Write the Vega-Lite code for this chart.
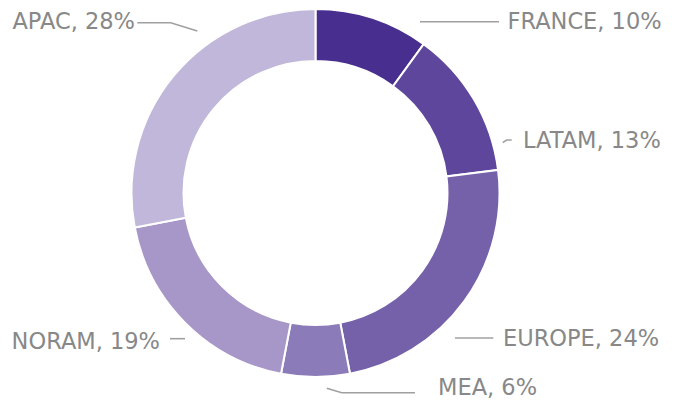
{
  "$schema": "https://vega.github.io/schema/vega-lite/v6.json",
  "width": 631,
  "height": 386,
  "autosize": "none",
  "padding": {"left": 0, "top": 0, "right": 51, "bottom": 22},
  "background": "white",
  "config": {"view": {"stroke": null}},
  "datasets": {
    "shares": [
      {"region": "FRANCE", "share": 10},
      {"region": "LATAM", "share": 13},
      {"region": "EUROPE", "share": 24},
      {"region": "MEA", "share": 6},
      {"region": "NORAM", "share": 19},
      {"region": "APAC", "share": 28}
    ],
    "labels": [
      {"text": "FRANCE, 10%", "u": 1.0435, "v": 0.9321},
      {"text": "LATAM, 13%", "u": 1.1277, "v": 0.288},
      {"text": "EUROPE, 24%", "u": 1.019, "v": -0.788},
      {"text": "MEA, 6%", "u": 0.6658, "v": -1.0543},
      {"text": "NORAM, 19%", "u": -0.8451, "v": -0.8043},
      {"text": "APAC, 28%", "u": -0.981, "v": 0.9321}
    ],
    "leaders": [
      {"region": "FRANCE", "seq": 1, "u": 0.5679, "v": 0.931},
      {"region": "FRANCE", "seq": 2, "u": 0.9973, "v": 0.931},
      {"region": "LATAM", "seq": 1, "u": 1.0174, "v": 0.2734},
      {"region": "LATAM", "seq": 2, "u": 1.0391, "v": 0.288},
      {"region": "LATAM", "seq": 3, "u": 1.0663, "v": 0.288},
      {"region": "EUROPE", "seq": 1, "u": 0.7582, "v": -0.788},
      {"region": "EUROPE", "seq": 2, "u": 0.9663, "v": -0.788},
      {"region": "MEA", "seq": 1, "u": 0.0609, "v": -1.0614},
      {"region": "MEA", "seq": 2, "u": 0.1424, "v": -1.0853},
      {"region": "MEA", "seq": 3, "u": 0.5408, "v": -1.0853},
      {"region": "NORAM", "seq": 1, "u": -0.7908, "v": -0.7918},
      {"region": "NORAM", "seq": 2, "u": -0.7092, "v": -0.7918},
      {"region": "APAC", "seq": 1, "u": -0.9685, "v": 0.9255},
      {"region": "APAC", "seq": 2, "u": -0.787, "v": 0.9255},
      {"region": "APAC", "seq": 3, "u": -0.6424, "v": 0.8804}
    ]
  },
  "layer": [
    {
      "data": {"name": "shares"},
      "transform": [{"window": [{"op": "row_number", "as": "idx"}]}],
      "mark": {"type": "arc", "outerRadius": 184, "innerRadius": 132, "stroke": "white", "strokeWidth": 2},
      "encoding": {
        "theta": {"field": "share", "type": "quantitative", "stack": true},
        "order": {"field": "idx", "type": "quantitative"},
        "color": {
          "field": "region",
          "type": "nominal",
          "scale": {
            "domain": ["FRANCE", "LATAM", "EUROPE", "MEA", "NORAM", "APAC"],
            "range": ["#482e8e", "#5e469c", "#7561a9", "#8b7bb9", "#a797c8", "#c1b7da"]
          },
          "legend": null
        }
      }
    },
    {
      "data": {"name": "leaders"},
      "mark": {"type": "line", "color": "#a0a0a0", "strokeWidth": 1.6},
      "encoding": {
        "x": {"field": "u", "type": "quantitative", "axis": null, "scale": {"domain": [-1.7147, 1.7147], "nice": false, "zero": false}},
        "y": {"field": "v", "type": "quantitative", "axis": null, "scale": {"domain": [-1.0489, 1.0489], "nice": false, "zero": false}},
        "detail": {"field": "region", "type": "nominal"},
        "order": {"field": "seq", "type": "quantitative"}
      }
    },
    {
      "data": {"name": "labels"},
      "transform": [{"filter": "datum.u > 0"}],
      "mark": {"type": "text", "align": "left", "baseline": "middle", "dy": 1, "font": "DejaVu Sans", "fontSize": 22.5, "fontWeight": "normal", "color": "#888888"},
      "encoding": {
        "x": {"field": "u", "type": "quantitative", "axis": null, "scale": {"domain": [-1.7147, 1.7147], "nice": false, "zero": false}},
        "y": {"field": "v", "type": "quantitative", "axis": null, "scale": {"domain": [-1.0489, 1.0489], "nice": false, "zero": false}},
        "text": {"field": "text", "type": "nominal"}
      }
    },
    {
      "data": {"name": "labels"},
      "transform": [{"filter": "datum.u < 0"}],
      "mark": {"type": "text", "align": "right", "baseline": "middle", "dy": 1, "font": "DejaVu Sans", "fontSize": 22.5, "fontWeight": "normal", "color": "#888888"},
      "encoding": {
        "x": {"field": "u", "type": "quantitative", "axis": null, "scale": {"domain": [-1.7147, 1.7147], "nice": false, "zero": false}},
        "y": {"field": "v", "type": "quantitative", "axis": null, "scale": {"domain": [-1.0489, 1.0489], "nice": false, "zero": false}},
        "text": {"field": "text", "type": "nominal"}
      }
    }
  ]
}
